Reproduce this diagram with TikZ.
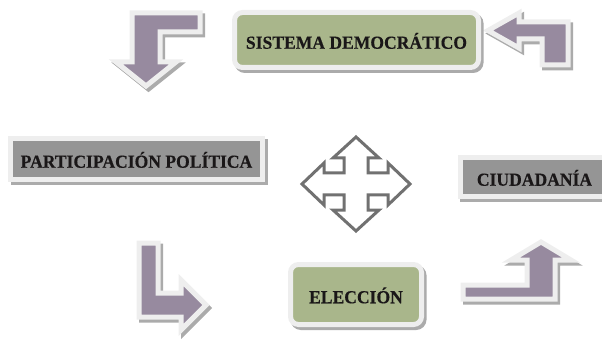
\documentclass[tikz,border=0pt]{standalone}
\usepackage{fontspec}
\setmainfont{Liberation Serif}
\newfontfamily\boxfont{Liberation Serif Bold}[FakeStretch=0.955, FakeBold=0.3]
\definecolor{arrowpurple}{HTML}{978A9F}
\definecolor{boxgreen}{HTML}{A9B68B}
\definecolor{boxgray}{HTML}{959595}
\definecolor{rimcol}{HTML}{EEEEEE}
\definecolor{shadowcol}{HTML}{ABABAB}
\definecolor{textcol}{HTML}{1A1718}
\definecolor{crossgray}{HTML}{717171}
\begin{document}
\begin{tikzpicture}[x=1pt,y=-1pt,
  shadowed/.style={preaction={draw=shadowcol, fill=shadowcol, line width=5pt,
      transform canvas={xshift=2.5pt,yshift=-3pt}}},
  blockarrow/.style={shadowed, draw=rimcol, line width=5pt, fill=arrowpurple, line join=miter},
  labelbox/.style={shadowed, draw=rimcol, line width=5pt, inner sep=0pt,
      text=textcol, font=\boxfont\fontsize{18.4}{20}\selectfont,
      text height=17.5pt, text depth=0pt},
  greenbox/.style={labelbox, fill=boxgreen, rounded corners=8pt},
  graybox/.style={labelbox, fill=boxgray},
  crossarrow/.style={draw=crossgray, line width=3pt, fill=white, line join=miter}]
\useasboundingbox (0,0) rectangle (602,339);
\clip (0,0) rectangle (602,339);

% bent arrows
\path[blockarrow] (132,13) -- (200,13) -- (200,32) -- (160,32) -- (160,62) -- (176,62)
  -- (146,86) -- (116,62) -- (132,62) -- cycle;
\path[blockarrow] (488,30.5) -- (519,13) -- (519,22) -- (568,22) -- (568,65) -- (542,65)
  -- (542,39) -- (519,39) -- (519,48) -- cycle;
\path[blockarrow] (139,243) -- (158,243) -- (158,293) -- (181,293) -- (181,280)
  -- (206,305) -- (181,330) -- (181,317) -- (139,317) -- cycle;
\path[blockarrow] (463,285) -- (527,285) -- (527,260) -- (511,260) -- (541,242)
  -- (571,260) -- (555,260) -- (555,299) -- (463,299) -- cycle;

% four-way arrow
\path[crossarrow] (356,137) -- (379,158) -- (368,158) -- (368,173) -- (388,173) -- (388,163)
  -- (410,184) -- (388,205) -- (388,195) -- (368,195) -- (368,210) -- (379,210)
  -- (356,231) -- (333,210) -- (344,210) -- (344,195) -- (324,195) -- (324,205)
  -- (302,184) -- (324,163) -- (324,173) -- (344,173) -- (344,158) -- (333,158) -- cycle;

% boxes
\node[greenbox, minimum width=244pt, minimum height=55pt] (sistema) at (356.5,40) {SISTEMA DEMOCRÁTICO};
\node[graybox, minimum width=252pt, minimum height=41pt] (participacion) at (136.5,159) {PARTICIPACIÓN POLÍTICA};
\node[graybox, minimum width=149pt, minimum height=39pt] (ciudadania) at (534.5,177) {CIUDADANÍA};
\node[greenbox, minimum width=131pt, minimum height=60pt] (eleccion) at (356,294.5) {ELECCIÓN};
\end{tikzpicture}
\end{document}
